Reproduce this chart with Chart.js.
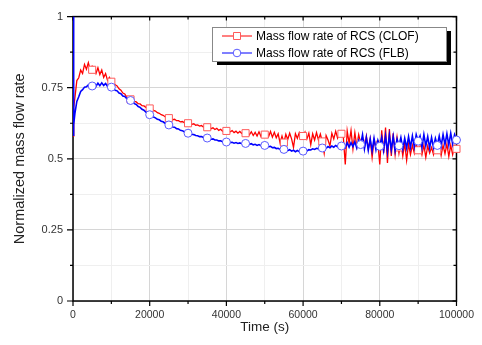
<!DOCTYPE html>
<html>
<head>
<meta charset="utf-8">
<script src="https://cdn.jsdelivr.net/npm/chart.js@4.4.1/dist/chart.umd.min.js"></script>
<style>
  html, body { margin: 0; padding: 0; background: #fff; }
  #wrap { width: 482px; height: 345px; }
</style>
</head>
<body>
<div id="wrap"><canvas id="flowChart" width="482" height="345"></canvas></div>
<script>
// Normalized RCS mass flow rate, CLOF vs FLB

// first seconds of the transient (s)
const earlyTime = [0, 100, 250];
const earlyClof = [0.58, 0.62, 0.68];
const earlyFlb = [1.0, 0.58, 0.62];

// sampled record, one value every 500 s from 500 s to 100000 s
const sampleStart = 500;
const sampleStep = 500;

const clofFlow = [
    0.715, 0.775, 0.785, 0.812, 0.800, 0.832, 0.815, 0.838, 0.812, 0.826,
    0.822, 0.800, 0.820, 0.796, 0.812, 0.786, 0.800, 0.776, 0.786, 0.770,
    0.768, 0.760, 0.756, 0.746, 0.741, 0.731, 0.728, 0.718, 0.717, 0.709,
    0.708, 0.702, 0.700, 0.694, 0.693, 0.687, 0.686, 0.681, 0.680, 0.677,
    0.676, 0.670, 0.668, 0.662, 0.660, 0.655, 0.653, 0.648, 0.647, 0.643,
    0.643, 0.638, 0.639, 0.634, 0.634, 0.630, 0.631, 0.627, 0.628, 0.625,
    0.626, 0.621, 0.623, 0.618, 0.619, 0.615, 0.617, 0.612, 0.614, 0.611,
    0.613, 0.606, 0.609, 0.603, 0.607, 0.600, 0.604, 0.597, 0.601, 0.598,
    0.600, 0.595, 0.599, 0.592, 0.597, 0.590, 0.596, 0.589, 0.594, 0.590,
    0.594, 0.584, 0.595, 0.582, 0.593, 0.580, 0.595, 0.579, 0.590, 0.585,
    0.594, 0.578, 0.596, 0.576, 0.593, 0.574, 0.588, 0.556, 0.580, 0.557,
    0.586, 0.568, 0.590, 0.570, 0.540, 0.588, 0.572, 0.592, 0.574, 0.580,
    0.594, 0.570, 0.590, 0.550, 0.588, 0.566, 0.592, 0.566, 0.587, 0.561,
    0.520, 0.582, 0.566, 0.545, 0.590, 0.570, 0.597, 0.573, 0.592, 0.588,
    0.575, 0.480, 0.598, 0.555, 0.600, 0.535, 0.592, 0.545, 0.585, 0.555,
    0.575, 0.540, 0.580, 0.535, 0.570, 0.505, 0.565, 0.540, 0.555, 0.480,
    0.600, 0.520, 0.610, 0.485, 0.605, 0.510, 0.590, 0.515, 0.575, 0.520,
    0.560, 0.510, 0.555, 0.495, 0.552, 0.515, 0.548, 0.520, 0.550, 0.530,
    0.545, 0.515, 0.548, 0.505, 0.545, 0.520, 0.540, 0.515, 0.548, 0.525,
    0.550, 0.512, 0.548, 0.518, 0.552, 0.508, 0.548, 0.515, 0.545, 0.530
];

const flbFlow = [
    0.660, 0.702, 0.718, 0.737, 0.743, 0.752, 0.753, 0.760, 0.758, 0.757,
    0.764, 0.755, 0.766, 0.757, 0.767, 0.758, 0.765, 0.755, 0.760, 0.752,
    0.748, 0.741, 0.739, 0.731, 0.729, 0.721, 0.719, 0.712, 0.710, 0.705,
    0.701, 0.694, 0.691, 0.684, 0.681, 0.674, 0.671, 0.664, 0.661, 0.655,
    0.652, 0.647, 0.644, 0.639, 0.637, 0.632, 0.630, 0.625, 0.623, 0.619,
    0.617, 0.612, 0.611, 0.606, 0.605, 0.600, 0.599, 0.595, 0.594, 0.590,
    0.589, 0.586, 0.585, 0.582, 0.581, 0.578, 0.578, 0.575, 0.575, 0.573,
    0.573, 0.569, 0.570, 0.566, 0.566, 0.563, 0.563, 0.560, 0.561, 0.559,
    0.560, 0.557, 0.558, 0.555, 0.557, 0.554, 0.556, 0.553, 0.555, 0.554,
    0.555, 0.551, 0.553, 0.549, 0.551, 0.547, 0.550, 0.546, 0.549, 0.547,
    0.547, 0.542, 0.544, 0.539, 0.540, 0.536, 0.537, 0.533, 0.535, 0.533,
    0.534, 0.529, 0.532, 0.527, 0.530, 0.525, 0.529, 0.525, 0.528, 0.527,
    0.530, 0.528, 0.532, 0.531, 0.535, 0.533, 0.537, 0.535, 0.539, 0.538,
    0.541, 0.537, 0.543, 0.539, 0.545, 0.541, 0.547, 0.542, 0.548, 0.545,
    0.552, 0.540, 0.556, 0.541, 0.557, 0.543, 0.560, 0.538, 0.565, 0.550,
    0.585, 0.535, 0.575, 0.530, 0.570, 0.528, 0.572, 0.532, 0.565, 0.544,
    0.575, 0.530, 0.580, 0.525, 0.583, 0.532, 0.578, 0.528, 0.570, 0.546,
    0.575, 0.535, 0.572, 0.538, 0.578, 0.540, 0.580, 0.542, 0.585, 0.562,
    0.580, 0.540, 0.585, 0.545, 0.578, 0.538, 0.575, 0.540, 0.572, 0.547,
    0.580, 0.545, 0.585, 0.550, 0.588, 0.548, 0.590, 0.552, 0.585, 0.566
];

// symbol positions (every 5000 s)
const markerTime = [5000, 10000, 15000, 20000, 25000, 30000, 35000, 40000, 45000, 50000,
    55000, 60000, 65000, 70000, 75000, 80000, 85000, 90000, 95000, 100000];
const clofMarkers = [0.813, 0.771, 0.709, 0.677, 0.643, 0.625, 0.611, 0.598, 0.590, 0.585,
    0.557, 0.580, 0.561, 0.588, 0.555, 0.550, 0.540, 0.530, 0.530, 0.535];
const flbMarkers = [0.756, 0.752, 0.705, 0.655, 0.619, 0.590, 0.573, 0.559, 0.554, 0.547,
    0.533, 0.527, 0.538, 0.545, 0.550, 0.544, 0.546, 0.562, 0.547, 0.566];

const seriesLabels = ['Mass flow rate of RCS (CLOF)', 'Mass flow rate of RCS (FLB)'];
const xTickStep = 10000;
const xLabelStep = 20000;
const yTickStep = 0.125;

// colours
const clofRed = '#ff0000';
const flbBlue = '#0000ff';
const clofMarkerEdge = '#ff5a5a';
const flbMarkerEdge = '#5a5aff';
const fontFamily = "'Liberation Sans', Arial, sans-serif";

function buildPoints(early, earlyVals, sampled) {
    const pts = early.map((t, i) => ({ x: t, y: earlyVals[i] }));
    sampled.forEach((v, i) => pts.push({ x: sampleStart + i * sampleStep, y: v }));
    return pts;
}

function buildMarkers(vals) {
    return markerTime.map((t, i) => ({ x: t, y: vals[i] }));
}

function isMajorX(v) { return Math.round(v) % xLabelStep === 0; }
function isMajorY(v) { return Math.round(v * 1000) % 250 === 0; }

// box frame with outward ticks on left/bottom and inward ticks on top/right
const axisFrame = {
    id: 'axisFrame',
    beforeDatasetsDraw(chart) {
        const { ctx, chartArea: a, scales } = chart;
        ctx.save();
        ctx.strokeStyle = '#000';
        ctx.lineWidth = 1.5;
        ctx.strokeRect(a.left, a.top, a.right - a.left, a.bottom - a.top);
        ctx.lineWidth = 1.2;
        ctx.beginPath();
        scales.x.ticks.forEach(t => {
            const px = scales.x.getPixelForValue(t.value);
            const major = isMajorX(t.value);
            ctx.moveTo(px, a.bottom);
            ctx.lineTo(px, a.bottom + (major ? 5 : 3));
            ctx.moveTo(px, a.top);
            ctx.lineTo(px, a.top + (major ? 4 : 3));
        });
        scales.y.ticks.forEach(t => {
            const py = scales.y.getPixelForValue(t.value);
            const major = isMajorY(t.value);
            ctx.moveTo(a.left, py);
            ctx.lineTo(a.left - (major ? 6 : 3), py);
            ctx.moveTo(a.right, py);
            ctx.lineTo(a.right - (major ? 4 : 3), py);
        });
        ctx.stroke();
        ctx.restore();
    }
};

// legend box with drop shadow, line + symbol samples
const boxLegend = {
    id: 'boxLegend',
    afterDraw(chart) {
        const ctx = chart.ctx;
        const x0 = 212, y0 = 27, w = 234, h = 34;
        ctx.save();
        ctx.fillStyle = '#000';
        ctx.fillRect(x0 + 5, y0 + 4, w, h);
        ctx.fillStyle = '#fff';
        ctx.fillRect(x0, y0, w, h);
        ctx.strokeStyle = '#888';
        ctx.lineWidth = 1;
        ctx.strokeRect(x0 + 0.5, y0 + 0.5, w, h);

        const rows = [
            { label: seriesLabels[0], line: clofRed, edge: clofMarkerEdge, square: true },
            { label: seriesLabels[1], line: flbBlue, edge: flbMarkerEdge, square: false }
        ];
        ctx.font = '12px ' + fontFamily;
        ctx.textBaseline = 'middle';
        rows.forEach((r, i) => {
            const y = y0 + 9 + i * 17;
            ctx.strokeStyle = r.line;
            ctx.lineWidth = 1;
            ctx.beginPath();
            ctx.moveTo(222, y);
            ctx.lineTo(252, y);
            ctx.stroke();
            ctx.fillStyle = '#fff';
            ctx.strokeStyle = r.edge;
            ctx.beginPath();
            if (r.square) {
                ctx.rect(233.5, y - 3.5, 7, 7);
            } else {
                ctx.arc(237, y, 3.8, 0, Math.PI * 2);
            }
            ctx.fill();
            ctx.stroke();
            ctx.fillStyle = '#000';
            ctx.fillText(r.label, 256, y + 0.5);
        });
        ctx.restore();
    }
};

document.addEventListener('DOMContentLoaded', function() {
    const canvas = document.getElementById('flowChart');

    new Chart(canvas, {
        type: 'line',
        data: {
            datasets: [{
                label: seriesLabels[1] + ' symbols',
                data: buildMarkers(flbMarkers),
                showLine: false,
                pointStyle: 'circle',
                pointRadius: 4,
                pointBackgroundColor: '#fff',
                pointBorderColor: flbMarkerEdge,
                pointBorderWidth: 1,
                clip: false,
                order: 0
            }, {
                label: seriesLabels[1],
                data: buildPoints(earlyTime, earlyFlb, flbFlow),
                borderColor: flbBlue,
                borderWidth: 1.6,
                pointRadius: 0,
                tension: 0,
                order: 1
            }, {
                label: seriesLabels[0] + ' symbols',
                data: buildMarkers(clofMarkers),
                showLine: false,
                pointStyle: 'rect',
                pointRadius: 5,
                pointBackgroundColor: '#fff',
                pointBorderColor: clofMarkerEdge,
                pointBorderWidth: 1,
                clip: false,
                order: 2
            }, {
                label: seriesLabels[0],
                data: buildPoints(earlyTime, earlyClof, clofFlow),
                borderColor: clofRed,
                borderWidth: 1.3,
                pointRadius: 0,
                tension: 0,
                order: 3
            }]
        },
        options: {
            responsive: false,
            animation: false,
            layout: {
                padding: { left: 0, top: 13, right: 21, bottom: 0 }
            },
            plugins: {
                legend: { display: false },
                tooltip: { enabled: false }
            },
            scales: {
                x: {
                    type: 'linear',
                    min: 0,
                    max: 100000,
                    afterFit: function(scale) { scale.height = 44; },
                    ticks: {
                        stepSize: xTickStep,
                        autoSkip: false,
                        maxRotation: 0,
                        padding: 8,
                        color: '#333',
                        font: { family: fontFamily, size: 10.5 },
                        callback: v => isMajorX(v) ? String(v) : ''
                    },
                    grid: {
                        drawTicks: false,
                        color: ctx => (ctx.tick && isMajorX(ctx.tick.value)) ? '#d6d6d6' : '#efefef'
                    },
                    border: { display: false },
                    title: {
                        display: true,
                        text: 'Time (s)',
                        color: '#222',
                        font: { family: fontFamily, size: 13.5 },
                        padding: { top: 0, bottom: 10 }
                    }
                },
                y: {
                    min: 0,
                    max: 1,
                    afterFit: function(scale) { scale.width = 73; },
                    ticks: {
                        stepSize: yTickStep,
                        padding: 10,
                        color: '#333',
                        font: { family: fontFamily, size: 11 },
                        callback: v => isMajorY(v) ? String(v) : ''
                    },
                    grid: {
                        drawTicks: false,
                        color: ctx => (ctx.tick && isMajorY(ctx.tick.value)) ? '#d6d6d6' : '#efefef'
                    },
                    border: { display: false },
                    title: {
                        display: true,
                        text: 'Normalized mass flow rate',
                        color: '#222',
                        font: { family: fontFamily, size: 14.5 },
                        padding: { top: 11, bottom: 0 }
                    }
                }
            }
        },
        plugins: [axisFrame, boxLegend]
    });
});
</script>
</body>
</html>
